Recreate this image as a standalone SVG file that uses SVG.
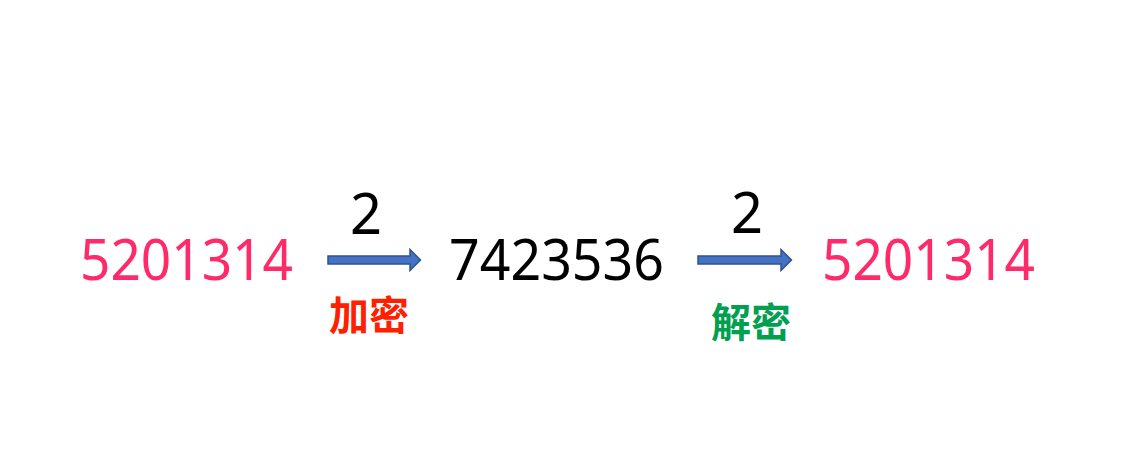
<svg xmlns="http://www.w3.org/2000/svg" width="1143" height="451" viewBox="0 0 1143 451">
<style>
.num{font-family:"Noto Sans","Open Sans",sans-serif;font-size:56px}
.pink{fill:#FF2A6A}
.blk{fill:#000}
.lbl{font-family:"Noto Sans CJK SC",sans-serif;font-size:40px;font-weight:bold;text-anchor:middle}
.arrow{fill:#4472C4;stroke:#2F528F;stroke-width:1.5}
</style>
<rect width="1143" height="451" fill="#fff"/>
<g id="plain1"><text class="num pink" x="80" y="280" textLength="213" lengthAdjust="spacingAndGlyphs">5201314</text></g>
<g id="cipher"><text class="num blk" x="449" y="280" textLength="215" lengthAdjust="spacingAndGlyphs">7423536</text></g>
<g id="plain2"><text class="num pink" x="822" y="280" textLength="213" lengthAdjust="spacingAndGlyphs">5201314</text></g>
<g id="connectors">
<path class="arrow" d="M328,256 H410 V249.5 L420.5,260 L410,270.5 V264 H328 Z"/>
<path class="arrow" d="M698,256 H781 V249.5 L791.5,260 L781,270.5 V264 H698 Z"/>
<text class="num blk" x="366" y="234" text-anchor="middle">2</text>
<text class="num blk" x="747" y="233" text-anchor="middle">2</text>
<text class="lbl" x="369" y="330" fill="#FF2000">加密</text>
<text class="lbl" x="751" y="337" fill="#00A050">解密</text>
</g>
</svg>
